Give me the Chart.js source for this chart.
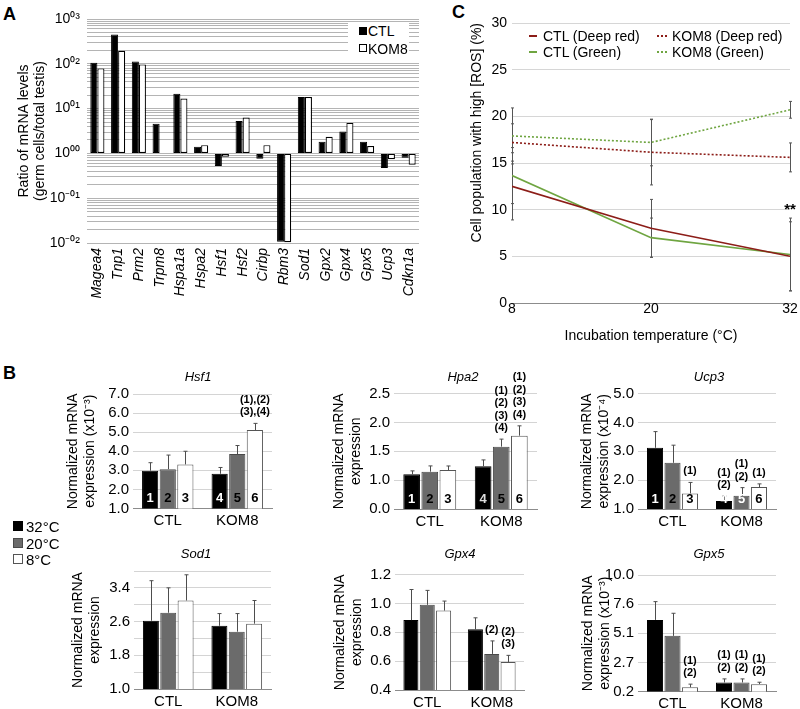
<!DOCTYPE html>
<html>
<head>
<meta charset="utf-8">
<title>Germ cell mRNA ratios, ROS and expression by temperature</title>
<script src="https://cdn.jsdelivr.net/npm/chart.js@4.4.1/dist/chart.umd.min.js"></script>
<style>
  body { margin: 0; background: #fff; }
  #fig { position: relative; width: 800px; height: 709px; overflow: hidden; background: #fff;
         font-family: 'Liberation Sans', Arial, sans-serif; color: #000; }
  #fig canvas { position: absolute; }
  .lbl { position: absolute; white-space: nowrap; line-height: 1; }
  .mid { transform: translate(-50%, -50%); }
  .vmid { transform: translateY(-50%); }
  .panel { font-weight: bold; font-size: 18px; }
  .swatch { position: absolute; box-sizing: border-box; }
</style>
</head>
<body>
<div id="fig"></div>
<script>
// ---- panel A: ratio germ cells / total testis (log scale) ----
const genes = ['Magea4', 'Tnp1', 'Prm2', 'Trpm8', 'Hspa1a', 'Hspa2', 'Hsf1', 'Hsf2',
               'Cirbp', 'Rbm3', 'Sod1', 'Gpx2', 'Gpx4', 'Gpx5', 'Ucp3', 'Cdkn1a'];
const ratioCTL  = [105, 450, 113, 4.6, 21.5, 1.4, 0.52, 5.3, 0.76, 0.0107, 18.2, 1.82, 3.1, 1.82, 0.47, 0.80];
const ratioKOM8 = [79, 195, 97, null, 16.7, 1.53, 0.84, 6.3, 1.53, 0.0104, 18.2, 2.35, 4.8, 1.46, 0.74, 0.56];
const strains = ['CTL', 'KOM8'];
const logDecades = [0.01, 0.1, 1, 10, 100, 1000];
const logDecadeLabels = ['10⁻⁰²', '10⁻⁰¹', '10⁰⁰', '10⁰¹', '10⁰²', '10⁰³'];

// ---- panel C: cells with high ROS (%) ----
const incubTemps = [8, 20, 32];
const rosCtlRed = [12.5, 8.0, 5.0];
const rosCtlRedSd = [3.6, 3.1, 3.7];
const rosCtlGreen = [13.65, 7.0, 5.2];
const rosCtlGreenSd = [3.0, 2.1, 3.9];
const rosKomRed = [17.2, 16.15, 15.6];
const rosKomRedSd = [2.0, 3.5, 1.55];
const rosKomGreen = [17.9, 17.2, 20.7];
const rosKomGreenSd = [3.0, 2.5, 0.9];
const rosNames = ['CTL (Deep red)', 'CTL (Green)', 'KOM8 (Deep red)', 'KOM8 (Green)'];
const rosTicks = [0, 5, 10, 15, 20, 25, 30];

// ---- panel B: normalized expression, bars 1..6 = CTL 32/20/8 then KOM8 32/20/8 ----
const groups = ['CTL', 'KOM8'];
const bTemps = ['32°C', '20°C', '8°C'];
const barNumbers = ['1', '2', '3', '4', '5', '6'];

const hsf1Mean = [2.98, 3.06, 3.31, 2.82, 3.85, 5.11];
const hsf1Err  = [0.42, 0.74, 0.69, 0.33, 0.45, 0.35];
const hsf1Ticks = [1, 2, 3, 4, 5, 6, 7];
const hsf1TickLabels = ['1.0', '2.0', '3.0', '4.0', '5.0', '6.0', '7.0'];
const hsf1Notes = [null, null, null, null, null, ['(1),(2)', '(3),(4)']];

const hpa2Mean = [1.10, 1.146, 1.175, 1.24, 1.58, 1.77];
const hpa2Err  = [0.06, 0.10, 0.07, 0.11, 0.13, 0.17];
const hpa2Ticks = [0.5, 1.0, 1.5, 2.0, 2.5];
const hpa2TickLabels = ['0.0', '1.0', '1.5', '2.0', '2.5'];
const hpa2Notes = [null, null, null, null, ['(1)', '(2)', '(3)', '(4)'], ['(1)', '(2)', '(3)', '(4)']];

const ucp3Mean = [3.12, 2.60, 1.54, 1.28, 1.46, 1.76];
const ucp3Err  = [0.56, 0.61, 0.38, 0.17, 0.28, 0.11];
const ucp3Ticks = [1, 2, 3, 4, 5];
const ucp3TickLabels = ['1.0', '2.0', '3.0', '4.0', '5.0'];
const ucp3Notes = [null, null, ['(1)'], ['(1)', '(2)'], ['(1)', '(2)'], ['(1)']];

const sod1Mean = [2.62, 2.81, 3.10, 2.50, 2.36, 2.55];
const sod1Err  = [0.95, 0.59, 0.61, 0.29, 0.43, 0.55];
const sod1Ticks = [1.0, 1.4, 1.8, 2.2, 2.6, 3.0, 3.4, 3.8];
const sod1TickLabels = ['1.0', '', '1.8', '', '2.6', '', '3.4', ''];

const gpx4Mean = [0.884, 0.99, 0.95, 0.82, 0.65, 0.594];
const gpx4Err  = [0.212, 0.10, 0.066, 0.08, 0.09, 0.046];
const gpx4Ticks = [0.4, 0.6, 0.8, 1.0, 1.2];
const gpx4TickLabels = ['0.4', '0.6', '0.8', '1.0', '1.2'];
const gpx4Notes = [null, null, null, null, ['(2)'], ['(2)', '(3)']];

const gpx5Mean = [6.22, 4.88, 0.56, 0.96, 0.96, 0.82];
const gpx5Err  = [1.54, 1.90, 0.26, 0.30, 0.30, 0.16];
const gpx5Ticks = [0.2, 2.65, 5.1, 7.55, 10.0];
const gpx5TickLabels = ['0.2', '2.7', '5.1', '7.6', '10.0'];
const gpx5Notes = [null, null, ['(1)', '(2)'], ['(1)', '(2)'], ['(1)', '(2)'], ['(1)', '(2)']];

/*------------------------------------------------------*/
Chart.defaults.font.family = "'Liberation Sans', Arial, sans-serif";
Chart.defaults.color = '#000';
Chart.defaults.animation = false;
Chart.defaults.plugins.legend.display = false;
Chart.defaults.plugins.tooltip.enabled = false;

const fig = document.getElementById('fig');
const FONT = "'Liberation Sans', Arial, sans-serif";

function addCanvas(box) {
    const c = document.createElement('canvas');
    c.width = box.w;
    c.height = box.h;
    c.style.left = box.x + 'px';
    c.style.top = box.y + 'px';
    fig.appendChild(c);
    return c;
}

function addText(text, x, y, cls, css) {
    const d = document.createElement('div');
    d.className = 'lbl ' + (cls || '');
    d.textContent = text;
    d.style.left = x + 'px';
    d.style.top = y + 'px';
    Object.assign(d.style, css || {});
    fig.appendChild(d);
    return d;
}

function addSwatch(x, y, w, h, css) {
    const d = document.createElement('div');
    d.className = 'swatch';
    Object.assign(d.style, {left: x + 'px', top: y + 'px', width: w + 'px', height: h + 'px'}, css);
    fig.appendChild(d);
}

// pin the plot rectangle of a chart to page coordinates
function frame(box, area) {
    return {
        padding: {left: 0, top: area.T - box.y, right: box.x + box.w - area.R, bottom: 0},
        yWidth: area.L - box.x,
        xHeight: box.y + box.h - area.B
    };
}

// panel letters
addText('A', 3, 5, 'panel');
addText('B', 3, 364, 'panel');
addText('C', 452, 3, 'panel');

/*------------------------------------------------------*/
// panel A
const boxA = {x: 0, y: 0, w: 440, h: 350};
const fA = frame(boxA, {L: 87, R: 419, T: 19, B: 243});

const logGrid = [];
logDecades.forEach((d, i) => {
    if (i === logDecades.length - 1) { logGrid.push(d); return; }
    for (let k = 1; k < 10; k++) logGrid.push(d * k);
});

new Chart(addCanvas(boxA), {
    type: 'bar',
    data: {
        labels: genes,
        datasets: [
            {label: strains[0], data: ratioCTL, base: 1, backgroundColor: '#000', borderColor: '#000',
             borderWidth: 1, borderSkipped: false, categoryPercentage: 0.68, barPercentage: 1},
            {label: strains[1], data: ratioKOM8, base: 1, backgroundColor: '#fff', borderColor: '#000',
             borderWidth: 1.2, borderSkipped: false, categoryPercentage: 0.68, barPercentage: 1}
        ]
    },
    options: {
        responsive: false,
        layout: {padding: fA.padding},
        scales: {
            x: {
                grid: {display: false, drawTicks: false},
                border: {display: false},
                ticks: {autoSkip: false, minRotation: 90, maxRotation: 90, padding: 5,
                        font: {size: 14, style: 'italic'}},
                afterFit: s => { s.height = fA.xHeight; }
            },
            y: {
                type: 'logarithmic', min: 0.01, max: 1000,
                grid: {color: '#b4b4b4', drawTicks: false},
                border: {display: false},
                afterBuildTicks: s => { s.ticks = logGrid.map(v => ({value: v})); },
                ticks: {autoSkip: false, padding: 7, font: {size: 14},
                        callback: v => { const i = logDecades.indexOf(v); return i < 0 ? '' : logDecadeLabels[i]; }},
                title: {display: true, text: ['Ratio of mRNA levels', '(germ cells/total testis)'],
                        font: {size: 14, lineHeight: 1.15}, padding: {top: 16, bottom: 0}},
                afterFit: s => { s.width = fA.yWidth; }
            }
        }
    }
});

// legend A (white box over the grid)
addSwatch(348, 23, 61, 29, {background: '#fff'});
addSwatch(359, 27, 8, 8, {background: '#000'});
addSwatch(359, 44, 8, 8, {background: '#fff', border: '1px solid #000'});
addText(strains[0], 368, 31, 'vmid', {fontSize: '14px'});
addText(strains[1], 368, 49, 'vmid', {fontSize: '14px'});

/*------------------------------------------------------*/
// panel C
const boxC = {x: 440, y: 0, w: 360, h: 360};
const fC = frame(boxC, {L: 512, R: 790, T: 23, B: 303});
const deepRed = '#8c1d18';
const green = '#6fa541';

const errorLines = {
    id: 'errorLines',
    beforeDatasetsDraw(chart) {
        const {ctx, scales: {x, y}} = chart;
        ctx.save();
        ctx.strokeStyle = '#555';
        ctx.lineWidth = 1;
        chart.data.datasets.forEach(ds => {
            ds.data.forEach((p, j) => {
                const px = Math.round(x.getPixelForValue(p.x)) + 0.5;
                const lo = y.getPixelForValue(p.y - ds.sd[j]);
                const hi = y.getPixelForValue(p.y + ds.sd[j]);
                ctx.beginPath();
                ctx.moveTo(px, lo); ctx.lineTo(px, hi);
                ctx.moveTo(px - 1.5, lo); ctx.lineTo(px + 1.5, lo);
                ctx.moveTo(px - 1.5, hi); ctx.lineTo(px + 1.5, hi);
                ctx.stroke();
            });
        });
        // significance mark above the CTL error bars at 32 °C
        const ds = chart.data.datasets[1];
        const top = y.getPixelForValue(ds.data[2].y + ds.sd[2]);
        ctx.fillStyle = '#000';
        ctx.font = 'bold 15px ' + FONT;
        ctx.textAlign = 'center';
        ctx.textBaseline = 'middle';
        ctx.fillText('**', x.getPixelForValue(ds.data[2].x), top - 8);
        ctx.restore();
    }
};

const pts = vals => incubTemps.map((t, i) => ({x: t, y: vals[i]}));

new Chart(addCanvas(boxC), {
    type: 'line',
    data: {
        datasets: [
            {label: rosNames[0], data: pts(rosCtlRed), sd: rosCtlRedSd, borderColor: deepRed, borderWidth: 1.6},
            {label: rosNames[1], data: pts(rosCtlGreen), sd: rosCtlGreenSd, borderColor: green, borderWidth: 1.6},
            {label: rosNames[2], data: pts(rosKomRed), sd: rosKomRedSd, borderColor: deepRed, borderWidth: 1.6, borderDash: [2, 2]},
            {label: rosNames[3], data: pts(rosKomGreen), sd: rosKomGreenSd, borderColor: green, borderWidth: 1.6, borderDash: [2, 2]}
        ]
    },
    options: {
        responsive: false,
        layout: {padding: fC.padding},
        elements: {point: {radius: 0}, line: {tension: 0}},
        scales: {
            x: {
                type: 'linear', min: 8, max: 32,
                afterBuildTicks: s => { s.ticks = incubTemps.map(v => ({value: v})); },
                grid: {display: false, drawTicks: false},
                border: {color: '#8c8c8c'},
                ticks: {padding: -1, font: {size: 14, lineHeight: 1}},
                title: {display: true, text: 'Incubation temperature (°C)', font: {size: 14}, padding: {top: 0, bottom: 15}},
                afterFit: s => { s.height = fC.xHeight; }
            },
            y: {
                min: 0, max: 30,
                afterBuildTicks: s => { s.ticks = rosTicks.map(v => ({value: v})); },
                grid: {color: '#d6d6d6', drawTicks: false},
                border: {display: false},
                ticks: {autoSkip: false, padding: 5, font: {size: 14}},
                title: {display: true, text: 'Cell population with high [ROS] (%)', align: 'end',
                        font: {size: 14}, padding: {top: 29, bottom: 0}},
                afterFit: s => { s.width = fC.yWidth; }
            }
        }
    },
    plugins: [errorLines]
});

// legend C
[[529, 36, 8, 'solid', deepRed, 543], [529, 52, 8, 'solid', green, 543],
 [657, 36, 10, 'dotted', deepRed, 672], [657, 52, 10, 'dotted', green, 672]].forEach((r, i) => {
    addSwatch(r[0], r[1] - 1, r[2], 2, {borderTop: '2px ' + r[3] + ' ' + r[4]});
    addText(rosNames[i], r[5], r[1], 'vmid', {fontSize: '14px'});
});

/*------------------------------------------------------*/
// panel B
const barFill = ['#000', '#6b6b6b', '#fff'];
const barEdge = ['#000', '#4a4a4a', '#555'];

const barMarks = {
    id: 'barMarks',
    afterDatasetsDraw(chart) {
        const {ctx, scales: {y}} = chart;
        ctx.save();
        chart.data.datasets.forEach((ds, i) => {
            chart.getDatasetMeta(i).data.forEach((bar, j) => {
                const x = Math.round(bar.x) + 0.5;
                const top = y.getPixelForValue(ds.data[j] + ds.errors[j]);
                ctx.strokeStyle = '#4d4d4d';
                ctx.lineWidth = 1;
                ctx.beginPath();
                ctx.moveTo(x, bar.y); ctx.lineTo(x, top);
                ctx.moveTo(x - 2, top); ctx.lineTo(x + 2, top);
                ctx.stroke();
                ctx.textAlign = 'center';
                ctx.textBaseline = 'middle';
                if (ds.nums) {
                    ctx.font = 'bold 13px ' + FONT;
                    ctx.fillStyle = ds.numColors[j];
                    ctx.fillText(ds.nums[j], bar.x, y.bottom - 10);
                }
                const note = ds.notes && ds.notes[j];
                if (note) {
                    ctx.font = 'bold 11px ' + FONT;
                    ctx.fillStyle = '#000';
                    note.forEach((line, n) => {
                        ctx.fillText(line, bar.x, top - 11 - (note.length - 1 - n) * 12.5);
                    });
                }
            });
        });
        ctx.restore();
    }
};

const expressionPanels = [
    {gene: 'Hsf1', means: hsf1Mean, errs: hsf1Err, ticks: hsf1Ticks, labels: hsf1TickLabels, unit: '(x10⁻³)',
     notes: hsf1Notes, nums: true, numColors: ['#fff', '#000', '#000', '#fff', '#000', '#000'],
     box: {x: 55, y: 370, w: 225, h: 160}, area: {L: 133, R: 272, T: 394, B: 508.5}, titleX: 73, head: [198, 376]},
    {gene: 'Hpa2', means: hpa2Mean, errs: hpa2Err, ticks: hpa2Ticks, labels: hpa2TickLabels, unit: null,
     notes: hpa2Notes, nums: true, numColors: ['#fff', '#000', '#000', '#ddd', '#000', '#000'],
     box: {x: 300, y: 370, w: 240, h: 160}, area: {L: 394, R: 537, T: 393.5, B: 509}, titleX: 339, head: [463, 376]},
    {gene: 'Ucp3', means: ucp3Mean, errs: ucp3Err, ticks: ucp3Ticks, labels: ucp3TickLabels, unit: '(x10⁻⁴)',
     notes: ucp3Notes, nums: true, numColors: ['#fff', '#000', '#000', '#fff', '#fff', '#000'],
     box: {x: 555, y: 370, w: 240, h: 160}, area: {L: 638, R: 776, T: 393.5, B: 509}, titleX: 587, head: [709, 376]},
    {gene: 'Sod1', means: sod1Mean, errs: sod1Err, ticks: sod1Ticks, labels: sod1TickLabels, unit: null,
     notes: null, nums: false,
     box: {x: 55, y: 558, w: 225, h: 151}, area: {L: 134, R: 271, T: 570, B: 689}, titleX: 78, head: [196, 553]},
    {gene: 'Gpx4', means: gpx4Mean, errs: gpx4Err, ticks: gpx4Ticks, labels: gpx4TickLabels, unit: null,
     notes: gpx4Notes, nums: false,
     box: {x: 300, y: 558, w: 240, h: 151}, area: {L: 395, R: 524, T: 574.5, B: 690}, titleX: 340, head: [460, 553]},
    {gene: 'Gpx5', means: gpx5Mean, errs: gpx5Err, ticks: gpx5Ticks, labels: gpx5TickLabels, unit: '(x10⁻³)',
     notes: gpx5Notes, nums: false,
     box: {x: 555, y: 558, w: 240, h: 151}, area: {L: 638, R: 776, T: 575, B: 691.5}, titleX: 588, head: [709, 553]}
];

expressionPanels.forEach(p => {
    const f = frame(p.box, p.area);
    const pick = (arr, i) => arr ? [arr[i], arr[i + 3]] : null;
    const datasets = bTemps.map((t, i) => ({
        label: t,
        data: pick(p.means, i),
        errors: pick(p.errs, i),
        notes: pick(p.notes, i),
        nums: p.nums ? pick(barNumbers, i) : null,
        numColors: pick(p.numColors, i),
        backgroundColor: barFill[i],
        borderColor: barEdge[i],
        borderWidth: 1,
        borderSkipped: false,
        categoryPercentage: 0.76,
        barPercentage: 0.92
    }));
    new Chart(addCanvas(p.box), {
        type: 'bar',
        data: {labels: groups, datasets: datasets},
        options: {
            responsive: false,
            layout: {padding: f.padding},
            scales: {
                x: {
                    grid: {display: false, drawTicks: false},
                    border: {color: '#8c8c8c'},
                    ticks: {padding: 3.5, font: {size: 15}},
                    afterFit: s => { s.height = f.xHeight; }
                },
                y: {
                    min: p.ticks[0], max: p.ticks[p.ticks.length - 1],
                    afterBuildTicks: s => { s.ticks = p.ticks.map(v => ({value: v})); },
                    grid: {color: '#d4d4d4', drawTicks: false},
                    border: {display: false},
                    ticks: {autoSkip: false, padding: 4, font: {size: 15}, callback: (v, i) => p.labels[i]},
                    title: {display: true,
                            text: ['Normalized mRNA', 'expression' + (p.unit ? ' ' + p.unit : '')],
                            font: {size: 14, lineHeight: 1.2},
                            padding: {top: p.titleX - p.box.x - 8.4, bottom: 0}},
                    afterFit: s => { s.width = f.yWidth; }
                }
            }
        },
        plugins: [barMarks]
    });
    addText(p.gene, p.head[0], p.head[1], 'mid', {fontSize: '13px', fontStyle: 'italic'});
});

// legend B
bTemps.forEach((t, i) => {
    const cy = [526, 543, 559][i];
    addSwatch(13, cy - 5, 10, 10, {background: barFill[i], border: '1px solid ' + barEdge[i]});
    addText(t, 26, cy, 'vmid', {fontSize: '15px'});
});
</script>
</body>
</html>
